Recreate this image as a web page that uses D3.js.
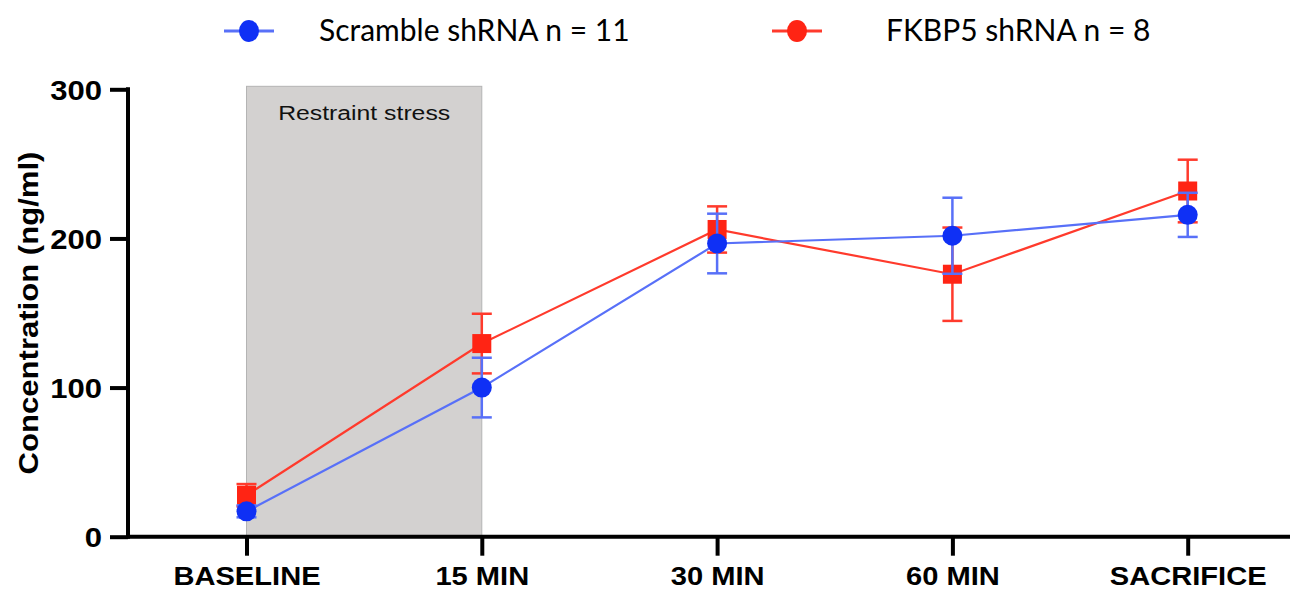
<!DOCTYPE html>
<html>
<head>
<meta charset="utf-8">
<script src="https://cdn.jsdelivr.net/npm/d3@7"></script>
<style>
  body { margin: 0; background: #fff; }
  svg { display: block; }
</style>
</head>
<body>
<div id="container"></div>
<script>
const categories = ['BASELINE', '15 MIN', '30 MIN', '60 MIN', 'SACRIFICE']
const yTicks = [0, 100, 200, 300]

const scrambleMean = [17, 100, 196.6, 201.8, 215.8]
const scrambleErr = [4, 20, 20, 25.5, 14.8]
const fkbp5Mean = [27.8, 129.5, 206, 176, 231.8]
const fkbp5Err = [7.5, 20, 15.5, 31.3, 21]

const stressLabel = 'Restraint stress'
const stressRange = ['BASELINE', '15 MIN']
const stressTop = 302

const series = [
  { name: 'FKBP5 shRNA n = 8', mean: fkbp5Mean, err: fkbp5Err, shape: 'square',
    marker: '#ff2414', line: '#ff3a2c' },
  { name: 'Scramble shRNA n = 11', mean: scrambleMean, err: scrambleErr, shape: 'circle',
    marker: '#0f30f5', line: '#5870f8' }
]

const W = 1293, H = 592
const stretch = 1.12

const svg = d3.select('#container').append('svg')
  .attr('width', W).attr('height', H)

const x = d3.scalePoint().domain(categories).range([246.5, 1187.7])
const y = d3.scaleLinear().domain([0, 300]).range([536.7, 89.3])

// shaded stress window
const sx0 = x(stressRange[0]), sx1 = x(stressRange[1])
svg.append('rect')
  .attr('x', sx0).attr('y', y(stressTop))
  .attr('width', sx1 - sx0).attr('height', y(0) - y(stressTop))
  .style('fill', '#d3d1d0')
  .style('stroke', '#b4b4b4')
  .style('stroke-width', 1)

svg.append('text')
  .attr('transform', `translate(${(sx0 + sx1) / 2},120) scale(1.18,1)`)
  .attr('text-anchor', 'middle')
  .style('font-family', 'Liberation Sans, Arial, sans-serif')
  .style('font-size', '21px')
  .style('fill', '#111')
  .text(stressLabel)

// axes
const yAxis = d3.axisLeft(y).tickValues(yTicks).tickSize(18).tickPadding(7)
const gy = svg.append('g').attr('transform', 'translate(128,0)').call(yAxis)
gy.select('.domain').remove()
gy.append('line').attr('x1', 0).attr('x2', 0).attr('y1', y(300) - 2).attr('y2', y(0) + 2)
  .style('stroke', '#000').style('stroke-width', 4)
gy.selectAll('.tick line').style('stroke', '#000').style('stroke-width', 4)
gy.selectAll('.tick text')
  .style('font-family', 'Liberation Sans, Arial, sans-serif')
  .style('font-weight', 'bold').style('font-size', '27px').style('fill', '#000')
  .attr('dy', '0.36em')
  .each(function () {
    const t = d3.select(this)
    const tx = +t.attr('x')
    t.attr('x', null).attr('transform', `translate(${tx - 1},0) scale(1.15,1)`)
  })

const xAxis = d3.axisBottom(x).tickSize(19).tickPadding(12)
const gx = svg.append('g').attr('transform', `translate(0,${y(0)})`).call(xAxis)
gx.select('.domain').remove()
gx.append('line').attr('x1', 126).attr('x2', 1290).attr('y1', 0).attr('y2', 0)
  .style('stroke', '#000').style('stroke-width', 4)
gx.selectAll('.tick line').style('stroke', '#000').style('stroke-width', 4)
gx.selectAll('.tick text')
  .style('font-family', 'Liberation Sans, Arial, sans-serif')
  .style('font-weight', 'bold').style('font-size', '26px').style('fill', '#000')
  .each(function () {
    const t = d3.select(this)
    const ty = +t.attr('y')
    t.attr('y', null).attr('transform', `translate(0,${ty - 1}) scale(${stretch},1)`)
  })

svg.append('text')
  .attr('transform', `translate(38,${(153 + 473) / 2}) rotate(-90) scale(1.11,1)`)
  .attr('text-anchor', 'middle')
  .style('font-family', 'Liberation Sans, Arial, sans-serif')
  .style('font-weight', 'bold').style('font-size', '28px')
  .text('Concentration (ng/ml)')

// series
const line = d3.line().x((d, i) => x(categories[i])).y(d => y(d))
const ms = 19, cap = 10

series.forEach(s => {
  const g = svg.append('g')
  g.append('path')
    .datum(s.mean)
    .attr('d', line)
    .style('fill', 'none')
    .style('stroke', s.line)
    .style('stroke-width', 2.2)

  const eb = g.selectAll('.eb').data(s.mean).enter().append('g')
    .attr('transform', (d, i) => `translate(${x(categories[i])},0)`)
  eb.append('line')
    .attr('y1', (d, i) => y(d + s.err[i])).attr('y2', (d, i) => y(d - s.err[i]))
    .style('stroke', s.line).style('stroke-width', 2.5)
  eb.append('line').attr('x1', -cap).attr('x2', cap)
    .attr('y1', (d, i) => y(d + s.err[i])).attr('y2', (d, i) => y(d + s.err[i]))
    .style('stroke', s.line).style('stroke-width', 2.5)
  eb.append('line').attr('x1', -cap).attr('x2', cap)
    .attr('y1', (d, i) => y(d - s.err[i])).attr('y2', (d, i) => y(d - s.err[i]))
    .style('stroke', s.line).style('stroke-width', 2.5)

  if (s.shape === 'square') {
    eb.append('rect')
      .attr('x', -ms / 2).attr('y', d => y(d) - ms / 2)
      .attr('width', ms).attr('height', ms)
      .style('fill', s.marker)
  } else {
    eb.append('circle')
      .attr('cy', d => y(d)).attr('r', ms / 2 + 0.5)
      .style('fill', s.marker)
  }
})

// legend
const legend = [
  { item: series[1], lx: 249, tx: 319 },
  { item: series[0], lx: 797, tx: 886 }
]
const lg = svg.append('g').selectAll('g').data(legend).enter().append('g')
lg.append('line')
  .attr('x1', d => d.lx - 25).attr('x2', d => d.lx + 25)
  .attr('y1', 31).attr('y2', 31)
  .style('stroke', d => d.item.line).style('stroke-width', 3)
lg.append('ellipse')
  .attr('cx', d => d.lx).attr('cy', 31).attr('rx', 10).attr('ry', 11)
  .style('fill', d => d.item.marker)
lg.append('text')
  .attr('x', d => d.tx).attr('y', 41)
  .style('font-family', 'Lato, sans-serif')
  .style('font-size', '30px').style('fill', '#000')
  .text(d => d.item.name)
</script>
</body>
</html>
